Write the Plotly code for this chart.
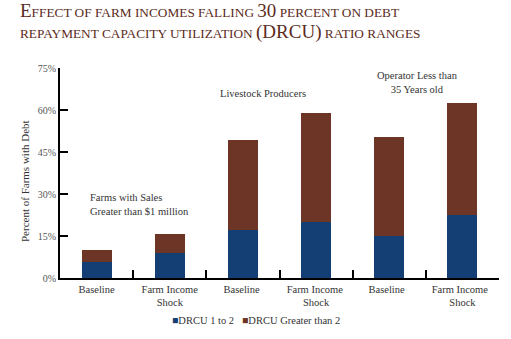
import plotly.graph_objects as go

categories = ["Baseline", "Farm Income<br>Shock", "Baseline ", "Farm Income <br>Shock",
              "Baseline  ", "Farm Income  <br>Shock"]
drcu_1_to_2 = [5.7, 9.1, 17.0, 20.0, 15.0, 22.6]
drcu_over_2 = [4.3, 6.5, 32.2, 39.1, 35.5, 39.9]
y_ticks = [0, 15, 30, 45, 60, 75]
y_tick_labels = ["0%", "15%", "30%", "45%", "60%", "75%"]
series_names = ["DRCU 1 to 2", "DRCU Greater than 2"]

BLUE = "#133f75"
BROWN = "#6c3526"
FONT = "Liberation Serif, Times New Roman, serif"
TEXT = "#333333"

fig = go.Figure()
fig.add_trace(go.Bar(x=categories, y=drcu_1_to_2, name=series_names[0],
                     marker=dict(color=BLUE, line=dict(width=0)), showlegend=False))
fig.add_trace(go.Bar(x=categories, y=drcu_over_2, name=series_names[1],
                     marker=dict(color=BROWN, line=dict(width=0)), showlegend=False))

# legend entries: a coloured square glyph sits right against the label text
for name, color, leg in [(series_names[0], BLUE, "legend"), (series_names[1], BROWN, "legend2")]:
    fig.add_trace(go.Scatter(
        x=[None], y=[None], mode="markers", legend=leg,
        name=f"<span style='color:{color}'>■</span>{name}",
        marker=dict(symbol="square", size=1, color="rgba(0,0,0,0)")))

big = "<span style='font-size:19px'>{}</span>"
title_lines = [
    big.format("E") + "FFECT OF FARM INCOMES FALLING " + big.format("30") + " PERCENT ON DEBT",
    "REPAYMENT CAPACITY UTILIZATION " + big.format("(DRCU)") + " RATIO RANGES",
]
for i, line in enumerate(title_lines):
    fig.add_annotation(text=line, xref="paper", yref="paper",
                       x=(18 - 60) / 439, xanchor="left",
                       y=(278 - 23 - 22 * i) / 210, yanchor="bottom",
                       showarrow=False, align="left",
                       font=dict(family=FONT, size=13.3, color="#5c2b22"))

legend_common = dict(orientation="h", yref="container", y=1 - 320 / 339, yanchor="middle",
                     xanchor="left", font=dict(size=10.5, color=TEXT), itemwidth=30,
                     bgcolor="rgba(0,0,0,0)", borderwidth=0)

fig.update_layout(
    width=511, height=339,
    margin=dict(l=60, r=12, t=68, b=61),
    paper_bgcolor="white", plot_bgcolor="white",
    barmode="stack", bargap=0.59,
    font=dict(family=FONT, size=10, color=TEXT),
    showlegend=True,
    legend=dict(x=(172 - 40 - 60) / 439, **legend_common),
    legend2=dict(x=(242 - 40 - 60) / 439, **legend_common),
    xaxis=dict(showline=True, linecolor="black", linewidth=2,
               ticks="inside", ticklen=8, tickwidth=2, tickcolor="black",
               tickson="boundaries", showgrid=False, tickangle=0, automargin=False,
               tickfont=dict(size=10.5, color=TEXT)),
    yaxis=dict(range=[0, 75], tickvals=y_ticks, ticktext=y_tick_labels,
               showline=True, linecolor="black", linewidth=2,
               ticks="inside", ticklen=8, tickwidth=2, tickcolor="black",
               showgrid=False, zeroline=False, automargin=False,
               tickfont=dict(size=10, color="#555555")),
)

# vertical axis caption, sitting a little below the plot's midline
fig.add_annotation(text="Percent of Farms with Debt", textangle=-90,
                   xref="paper", yref="paper", x=(25 - 60) / 439, y=(278 - 181) / 210,
                   xanchor="center", yanchor="middle", showarrow=False,
                   font=dict(size=11, color=TEXT))

fig.add_annotation(x=-0.12, y=26.3, xref="x", yref="y", xanchor="left",
                   text="Farms with Sales<br>Greater than $1 million",
                   showarrow=False, align="left", font=dict(size=10.5, color=TEXT))
fig.add_annotation(x=2.28, y=66, xref="x", yref="y",
                   text="Livestock Producers",
                   showarrow=False, font=dict(size=10.5, color=TEXT))
fig.add_annotation(x=4.39, y=69.9, xref="x", yref="y",
                   text="Operator Less than<br>35 Years old",
                   showarrow=False, align="center", font=dict(size=10.5, color=TEXT))

fig.write_html("out.html")
